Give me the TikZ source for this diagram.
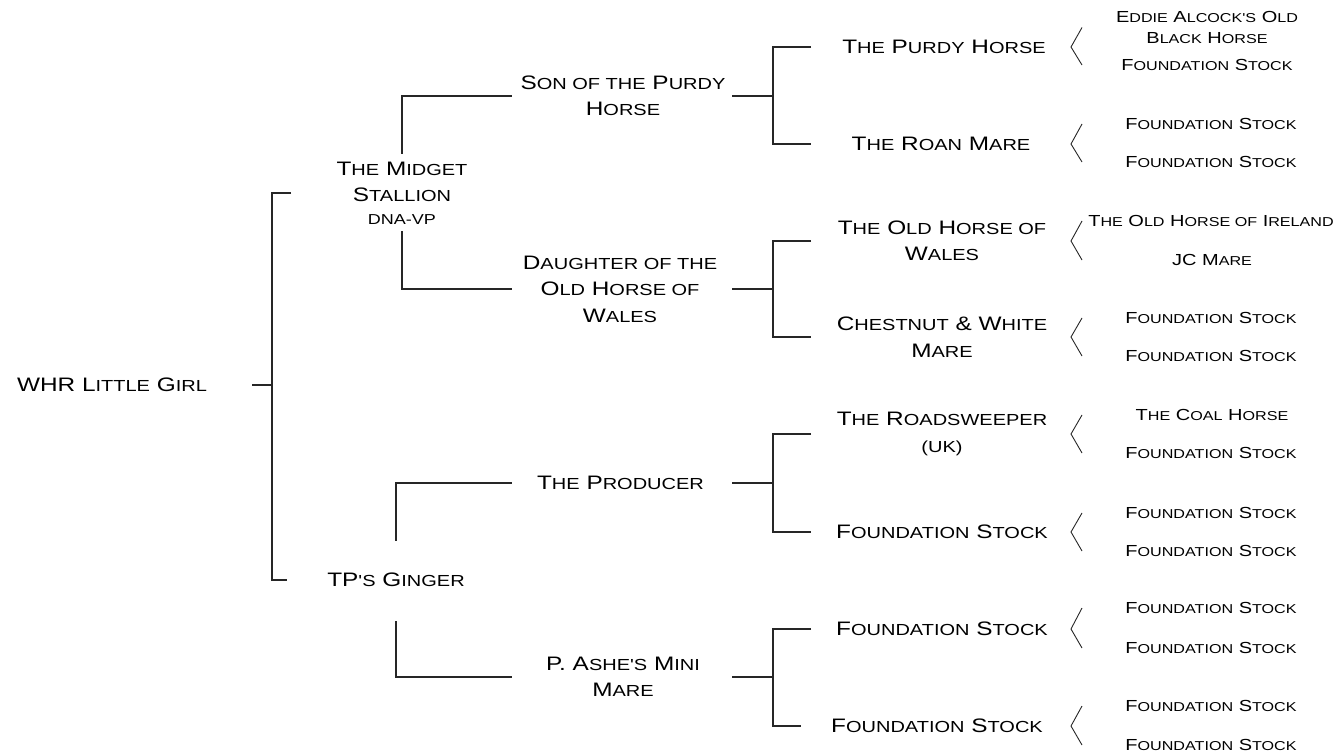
\documentclass[tikz,border=0pt]{standalone}
\usepackage{fontspec}
\newfontfamily\cpfont[FakeStretch=1.25]{Liberation Sans}
\newcommand\smsz{16}
\newcommand\sm[1]{{\fontsize{\smsz}{\smsz}\selectfont\MakeUppercase{#1}}}
\tikzset{
  lbl/.style={font=\cpfont\fontsize{19.5}{26.5}\selectfont\def\smsz{16}, align=center, inner sep=0pt, text=black},
  rl/.style={font=\cpfont\fontsize{16}{21}\selectfont\def\smsz{12.9}, align=center, inner sep=0pt, text=black},
  ln/.style={line width=1.2pt, draw=black!85},
  br/.style={line width=0.9pt, draw=black!85}
}
\begin{document}
\begin{tikzpicture}[x=1pt,y=-1pt]
\useasboundingbox (0,0) rectangle (1342,755);
% column coordinates
\coordinate (c0) at (252,0);
\coordinate (j0) at (272,0);
\coordinate (t0) at (291,0);
\coordinate (u0) at (287,0);
\coordinate (c2L) at (512,0);
\coordinate (c2R) at (732,0);
\coordinate (v3) at (773,0);
\coordinate (t3) at (811,0);
\coordinate (u3) at (801,0);
\coordinate (bx) at (1082,0);
\coordinate (bm) at (1071,0);

% generation 0 and 1
\node[lbl] (whr) at (112,385) {WHR L\sm{ittle} G\sm{irl}};
\node[lbl] (midget) at (402,193) {T\sm{he} M\sm{idget}\\S\sm{tallion}\\[-4pt]{\fontsize{14.4}{14.4}\selectfont DNA-VP}};
\node[lbl] (ginger) at (396,580) {TP\sm{'s} G\sm{inger}};

% generation 2
\node[lbl] (son) at (623,96) {S\sm{on of the} P\sm{urdy}\\H\sm{orse}};
\node[lbl] (daughter) at (620,289) {D\sm{aughter of the}\\O\sm{ld} H\sm{orse of}\\W\sm{ales}};
\node[lbl] (producer) at (620.5,483) {T\sm{he} P\sm{roducer}};
\node[lbl] (ashe) at (623,677) {P. A\sm{she's} M\sm{ini}\\M\sm{are}};

% generation 3
\node[lbl] (purdy) at (944,47) {T\sm{he} P\sm{urdy} H\sm{orse}};
\node[lbl] (roan) at (941,144) {T\sm{he} R\sm{oan} M\sm{are}};
\node[lbl] (oldw) at (942,241) {T\sm{he} O\sm{ld} H\sm{orse of}\\W\sm{ales}};
\node[lbl] (chest) at (942,337) {C\sm{hestnut} \& W\sm{hite}\\M\sm{are}};
\node[lbl] (road) at (942,434) {T\sm{he} R\sm{oadsweeper}\\\sm{(uk)}};
\node[lbl] (fsa) at (942,532) {F\sm{oundation} S\sm{tock}};
\node[lbl] (fsb) at (942,629) {F\sm{oundation} S\sm{tock}};
\node[lbl] (fsc) at (937,726) {F\sm{oundation} S\sm{tock}};

% generation 4
\node[rl] (r1a) at (1207,27.5) {E\sm{ddie} A\sm{lcock's} O\sm{ld}\\B\sm{lack} H\sm{orse}};
\node[rl] (r1b) at (1207,65) {F\sm{oundation} S\sm{tock}};
\node[rl] (r2a) at (1211,124) {F\sm{oundation} S\sm{tock}};
\node[rl] (r2b) at (1211,162) {F\sm{oundation} S\sm{tock}};
\node[rl] (r3a) at (1211,221) {T\sm{he} O\sm{ld} H\sm{orse of} I\sm{reland}};
\node[rl] (r3b) at (1212,260) {JC M\sm{are}};
\node[rl] (r4a) at (1211,318) {F\sm{oundation} S\sm{tock}};
\node[rl] (r4b) at (1211,356) {F\sm{oundation} S\sm{tock}};
\node[rl] (r5a) at (1212,415) {T\sm{he} C\sm{oal} H\sm{orse}};
\node[rl] (r5b) at (1211,453) {F\sm{oundation} S\sm{tock}};
\node[rl] (r6a) at (1211,513) {F\sm{oundation} S\sm{tock}};
\node[rl] (r6b) at (1211,551) {F\sm{oundation} S\sm{tock}};
\node[rl] (r7a) at (1211,608) {F\sm{oundation} S\sm{tock}};
\node[rl] (r7b) at (1211,648) {F\sm{oundation} S\sm{tock}};
\node[rl] (r8a) at (1211,706) {F\sm{oundation} S\sm{tock}};
\node[rl] (r8b) at (1211,745) {F\sm{oundation} S\sm{tock}};

% connectors gen 0 -> 1
\draw[ln] (whr.east -| c0) -- (whr.east -| j0);
\draw[ln] (midget.west -| t0) -| (whr.east -| j0) |- (ginger.west -| u0);

% gen 1 -> 2
\draw[ln] ([yshift=8pt]midget.north) |- (son.west -| c2L);
\draw[ln] ([yshift=-7pt]midget.south) |- (daughter.west -| c2L);
\draw[ln] ([yshift=32pt]ginger.north) |- (producer.west -| c2L);
\draw[ln] ([yshift=-34pt]ginger.south) |- (ashe.west -| c2L);

% gen 2 -> 3
\draw[ln] (son.east -| c2R) -- (son.east -| v3);
\draw[ln] (purdy.west -| t3) -| (son.east -| v3) |- (roan.west -| t3);
\draw[ln] (daughter.east -| c2R) -- (daughter.east -| v3);
\draw[ln] (oldw.west -| t3) -| (daughter.east -| v3) |- (chest.west -| t3);
\draw[ln] (producer.east -| c2R) -- (producer.east -| v3);
\draw[ln] (road.west -| t3) -| (producer.east -| v3) |- (fsa.west -| t3);
\draw[ln] (ashe.east -| c2R) -- (ashe.east -| v3);
\draw[ln] (fsb.west -| t3) -| (ashe.east -| v3) |- (fsc.west -| u3);

% gen 3 -> 4 angle brackets
\draw[br] (r1a -| bx) -- (purdy -| bm) -- (r1b -| bx);
\draw[br] (r2a -| bx) -- (roan -| bm) -- (r2b -| bx);
\draw[br] (r3a -| bx) -- (oldw -| bm) -- (r3b -| bx);
\draw[br] (r4a -| bx) -- (chest -| bm) -- (r4b -| bx);
\draw[br] (r5a -| bx) -- (road -| bm) -- (r5b -| bx);
\draw[br] (r6a -| bx) -- (fsa -| bm) -- (r6b -| bx);
\draw[br] (r7a -| bx) -- (fsb -| bm) -- (r7b -| bx);
\draw[br] (r8a -| bx) -- (fsc -| bm) -- (r8b -| bx);
\end{tikzpicture}
\end{document}
